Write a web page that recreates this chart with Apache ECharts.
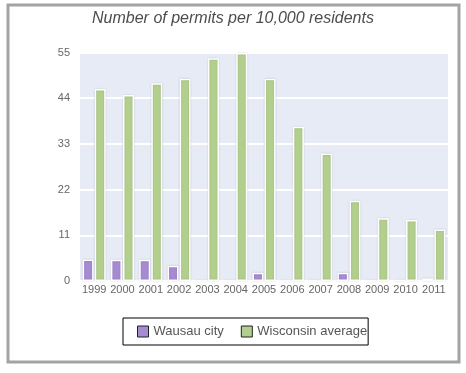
<!DOCTYPE html>
<html>
<head>
<meta charset="utf-8">
<script src="https://cdn.jsdelivr.net/npm/echarts@6/dist/echarts.min.js"></script>
<style>html,body{margin:0;padding:0;background:#fff;}#c{width:466px;height:373px;}</style>
</head>
<body>
<div id="c"></div>
<script>
var years = ['1999','2000','2001','2002','2003','2004','2005','2006','2007','2008','2009','2010','2011'];
var wausau = [5.2, 5.1, 5.1, 3.7, 0, 0, 2.0, 0, 0, 2.0, 0, 0.3, 0.6];
var wisconsin = [46.2, 44.8, 47.6, 48.7, 53.6, 54.9, 48.7, 37.1, 30.7, 19.3, 15.1, 14.7, 12.4];
var seriesNames = ['Wausau city', 'Wisconsin average'];
var titleText = 'Number of permits per 10,000 residents';

var chart = echarts.init(document.getElementById('c'), null, {renderer: 'canvas'});
var font = 'Liberation Sans, Arial, sans-serif';
chart.setOption({
  animation: false,
  backgroundColor: '#fff',
  graphic: [{
    type: 'rect', shape: {x: 8, y: 5, width: 451, height: 357},
    style: {fill: 'none', stroke: '#a3a3a3', lineWidth: 3}, silent: true, z: 100
  }],
  title: {
    text: titleText, left: 'center', top: 6,
    textStyle: {fontFamily: font, fontStyle: 'italic', fontWeight: 'normal', fontSize: 16, color: '#4d4d4d'}
  },
  legend: {
    data: seriesNames, left: 123, top: 318,
    borderColor: '#000', borderWidth: 1, padding: [7, 1, 7, 14],
    itemWidth: 11, itemHeight: 11, itemGap: 17, icon: 'rect',
    itemStyle: {borderColor: '#222', borderWidth: 1},
    textStyle: {fontFamily: font, fontSize: 13, color: '#555', padding: [0, 0, 0, 0]}
  },
  grid: {
    left: 80, right: 18, top: 52.5, bottom: 92, show: true,
    backgroundColor: '#e6ebf5', borderWidth: 0, containLabel: false
  },
  xAxis: {
    type: 'category', data: years,
    axisLine: {show: false}, axisTick: {show: false},
    axisLabel: {fontFamily: font, fontSize: 11, color: '#666', margin: 3, interval: 0}
  },
  yAxis: {
    type: 'value', min: 0, max: 55, interval: 11,
    axisLine: {show: false}, axisTick: {show: false},
    splitLine: {lineStyle: {color: '#fff', width: 2}},
    axisLabel: {fontFamily: font, fontSize: 11, color: '#666', margin: 10, padding: [0, 0, 6, 0]}
  },
  series: [
    {
      name: seriesNames[0], type: 'bar', data: wausau, barWidth: 11, barGap: '10%',
      itemStyle: {color: '#a78bd2', borderColor: '#fff', borderWidth: 1.5, shadowColor: 'rgba(0,0,0,0.15)', shadowBlur: 2}
    },
    {
      name: seriesNames[1], type: 'bar', data: wisconsin, barWidth: 11, barGap: '10%',
      itemStyle: {color: '#b2cf8e', borderColor: '#fff', borderWidth: 1.5, shadowColor: 'rgba(0,0,0,0.15)', shadowBlur: 2}
    }
  ]
});
</script>
</body>
</html>
